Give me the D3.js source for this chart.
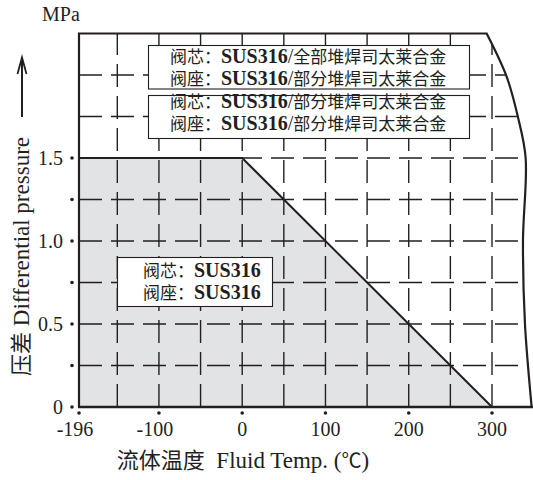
<!DOCTYPE html>
<html>
<head>
<meta charset="utf-8">
<script src="https://cdn.jsdelivr.net/npm/d3@7"></script>
<style>
  body { margin: 0; background: #fff; }
  text { fill: #231f20; }
</style>
</head>
<body>
<div id="chart"></div>
<script>
// data
let tempTicks = [-196, -100, 0, 100, 200, 300];
let tempGrid = [-150, -100, -50, 0, 50, 100, 150, 200, 250, 300];
let pressTicks = [0, 0.5, 1.0, 1.5];
let pressTickLabels = ["0", "0.5", "1.0", "1.5"];
let pressDots = [0, 0.25, 0.5, 0.75, 1.0, 1.25, 1.5];
let pressGrid = [0.25, 0.5, 0.75, 1.0, 1.25, 1.5, 1.75, 2.0];

// allowed region (SUS316 / SUS316)
let limitTemp = [-196, -196, 0, 300];
let limitPress = [0, 1.5, 1.5, 0];

// the bent right edge of the chart frame
let edgeTemp = [293.6, 317.6, 331, 340.4, 337.2, 339.6, 347.6];
let edgePress = [2.25, 1.99, 1.75, 1.5, 1.0, 0.5, 0];

let legendA = ["阀芯：", "SUS316", "全部堆焊司太莱合金"];
let legendB = ["阀座：", "SUS316", "部分堆焊司太莱合金"];
let legendC = ["阀芯：", "SUS316", "部分堆焊司太莱合金"];
let legendD = ["阀座：", "SUS316", "部分堆焊司太莱合金"];
let legendE = ["阀芯：", "SUS316", ""];
let legendF = ["阀座：", "SUS316", ""];

let width = 533;
let height = 480;
let ink = "#231f20";
let serif = "'Liberation Serif', 'Times New Roman', serif";
let cjk = "'Noto Sans CJK SC', sans-serif";

let svg = d3.select("#chart")
  .append("svg")
  .attr("width", width).attr("height", height);

let xScale = d3.scaleLinear().domain([-196, 300]).range([79, 492]);
let yScale = d3.scaleLinear().domain([0, 2.25]).range([407, 33.5]);

let straight = d3.line().x(d => xScale(d[0])).y(d => yScale(d[1]));
let bent = d3.line().x(d => xScale(d[0])).y(d => yScale(d[1]))
  .curve(d3.curveCatmullRom);

let edgePts = edgeTemp.map((t, i) => [t, edgePress[i]]);
let sidePts = [[-196, 0], [-196, 2.25]];
let framePath = straight(sidePts) + bent(edgePts).replace("M", "L");

svg.append("clipPath").attr("id", "frame")
  .append("path").attr("d", framePath + "Z");

// shaded area
let limitPts = limitTemp.map((t, i) => [t, limitPress[i]]);
svg.append("path")
  .attr("d", straight(limitPts) + "Z")
  .attr("fill", "#e2e3e5");

// dashed grid
let grid = svg.append("g").attr("clip-path", "url(#frame)")
  .attr("stroke", ink).attr("stroke-width", 1.4)
  .attr("stroke-dasharray", "23,9");

grid.selectAll(".v").data(tempGrid).enter()
  .append("line")
  .attr("x1", d => xScale(d)).attr("x2", d => xScale(d))
  .attr("y1", yScale(0)).attr("y2", yScale(2.25));

grid.selectAll(".h").data(pressGrid).enter()
  .append("line")
  .attr("x1", xScale(-196)).attr("x2", width)
  .attr("y1", d => yScale(d)).attr("y2", d => yScale(d));

// limit line
svg.append("path")
  .attr("d", straight(limitPts.slice(1)))
  .attr("fill", "none").attr("stroke", ink).attr("stroke-width", 2);

// frame
svg.append("path")
  .attr("d", framePath)
  .attr("fill", "none").attr("stroke", ink).attr("stroke-width", 2.2);

svg.append("line")
  .attr("x1", xScale(-196) - 1).attr("x2", width)
  .attr("y1", yScale(0)).attr("y2", yScale(0))
  .attr("stroke", ink).attr("stroke-width", 2.6);

// axis dots and labels
svg.selectAll(".xdot").data(tempTicks).enter()
  .append("circle")
  .attr("cx", d => xScale(d)).attr("cy", yScale(0) + 6)
  .attr("r", 1.8).attr("fill", ink);

svg.selectAll(".xlab").data(tempTicks).enter()
  .append("text")
  .attr("x", d => xScale(d) - (d < 0 ? 4 : 0)).attr("y", yScale(0) + 29)
  .attr("text-anchor", "middle")
  .style("font-family", serif).style("font-size", "20px")
  .text(d => d);

svg.selectAll(".ydot").data(pressDots).enter()
  .append("circle")
  .attr("cx", xScale(-196) - 7).attr("cy", d => yScale(d))
  .attr("r", 1.8).attr("fill", ink);

svg.selectAll(".ylab").data(pressTicks).enter()
  .append("text")
  .attr("x", xScale(-196) - 16).attr("y", d => yScale(d) + 7)
  .attr("text-anchor", "end")
  .style("font-family", serif).style("font-size", "20px")
  .text((d, i) => pressTickLabels[i]);

svg.append("text")
  .attr("x", 42).attr("y", 21)
  .style("font-family", serif).style("font-size", "20px")
  .text("MPa");

// y title with arrow
let yTitle = svg.append("text")
  .attr("transform", "translate(29,376)rotate(-90)")
  .style("font-family", serif).style("font-size", "23px");
yTitle.append("tspan").style("font-family", cjk).style("font-size", "22px").text("压差");
yTitle.append("tspan").text("\u00a0Differential pressure");

svg.append("line")
  .attr("x1", 22).attr("x2", 22).attr("y1", 117).attr("y2", 59)
  .attr("stroke", ink).attr("stroke-width", 2);
svg.append("path")
  .attr("d", "M17.5,74 L22,57.5 L26.5,74")
  .attr("fill", "none").attr("stroke", ink).attr("stroke-width", 1.8);

// x title
let xTitle = svg.append("text")
  .attr("x", 243).attr("y", 468)
  .attr("text-anchor", "middle")
  .style("font-family", serif).style("font-size", "23px");
xTitle.append("tspan").style("font-family", cjk).style("font-size", "22px").text("流体温度");
xTitle.append("tspan").text("\u00a0\u00a0Fluid Temp. (");
xTitle.append("tspan").style("font-family", cjk).style("font-size", "20px").text("℃");
xTitle.append("tspan").text(")");

// legend boxes
function legendBox(x, y, w, h, rows, tx, base) {
  svg.append("rect")
    .attr("x", x).attr("y", y).attr("width", w).attr("height", h)
    .attr("fill", "#fff").attr("stroke", ink).attr("stroke-width", 1.1);
  rows.forEach(function(r, i) {
    let t = svg.append("text")
      .attr("x", tx).attr("y", base + i * 22);
    t.append("tspan").style("font-family", cjk).style("font-size", "17px").text(r[0]);
    t.append("tspan").style("font-family", serif).style("font-size", "20px").style("font-weight", "bold").text(r[1]);
    if (r[2] !== "") {
      t.append("tspan").style("font-family", serif).style("font-size", "20px").text("/");
      t.append("tspan").style("font-family", cjk).style("font-size", "17px").text(r[2]);
    }
  });
}

legendBox(148.5, 45.5, 321, 43.5, [legendA, legendB], 170, 63);
legendBox(148.5, 95.5, 321, 43, [legendC, legendD], 170, 108);
legendBox(117.5, 257.5, 155, 49, [legendE, legendF], 143, 277);
</script>
</body>
</html>
